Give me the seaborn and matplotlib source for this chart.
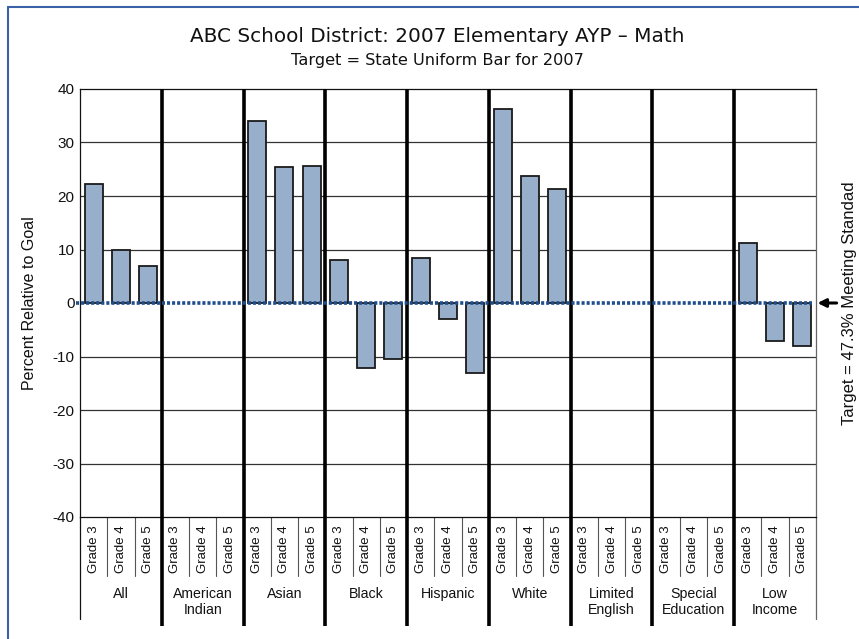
import numpy as np
import pandas as pd
import matplotlib
matplotlib.use("Agg")
import matplotlib.pyplot as plt
import matplotlib.transforms as mtransforms
import seaborn as sns

# ---- data ----
groups = ["All", "American\nIndian", "Asian", "Black", "Hispanic", "White",
          "Limited\nEnglish", "Special\nEducation", "Low\nIncome"]
grades = ["Grade 3", "Grade 4", "Grade 5"]
g3 = [22.3, np.nan, 34.1, 8.1, 8.5, 36.2, np.nan, np.nan, 11.2]
g4 = [9.9, np.nan, 25.5, -12.2, -3.0, 23.8, np.nan, np.nan, -7.1]
g5 = [7.0, np.nan, 25.6, -10.5, -13.1, 21.3, np.nan, np.nan, -8.1]
yticks = [-40, -30, -20, -10, 0, 10, 20, 30, 40]

title = "ABC School District: 2007 Elementary AYP \u2013 Math"
subtitle = "Target = State Uniform Bar for 2007"
ylabel = "Percent Relative to Goal"
target_label = "Target = 47.3% Meeting Standad"

rows = []
for i, grp in enumerate(groups):
    for gr, vals in zip(grades, [g3, g4, g5]):
        rows.append({"slot": f"{i}|{gr}", "group": grp, "grade": gr, "value": vals[i]})
df = pd.DataFrame(rows)
slots = list(df["slot"])

# ---- style ----
sns.set_style("white")
plt.rcParams["font.family"] = ["Liberation Sans", "DejaVu Sans"]
plt.rcParams["text.color"] = "#111111"
plt.rcParams["axes.labelcolor"] = "#111111"
plt.rcParams["xtick.color"] = "#111111"
plt.rcParams["ytick.color"] = "#111111"

bar_color = "#98afcb"
dot_color = "#1f4e8c"
border_color = "#3a62a8"

fig = plt.figure(figsize=(8.59, 6.39), dpi=100)
ax = fig.add_axes([80 / 859, 1 - 517 / 639, 736 / 859, 428 / 639])

sns.barplot(data=df, x="slot", y="value", order=slots, color=bar_color,
            edgecolor="#1a1a1a", linewidth=1.3, width=0.66, errorbar=None,
            saturation=1, ax=ax, zorder=3)

n = len(slots)
ax.set_xlim(-0.5, n - 0.5)
ax.set_ylim(-40, 40)
ax.set_yticks(yticks)
ax.set_yticklabels([str(t) for t in yticks], fontsize=11)
ax.tick_params(axis="y", length=0, pad=4)
ax.set_xticks(range(n))
ax.set_xticklabels(list(df["grade"]), rotation=90, fontsize=9.5, va="top")
ax.tick_params(axis="x", length=0, pad=6)
ax.set_xlabel("")
ax.set_ylabel(ylabel, fontsize=11.5, labelpad=11)

# horizontal gridlines
for t in yticks[1:-1]:
    if t != 0:
        ax.axhline(t, color="#333333", lw=0.9, zorder=1)

for side in ["left", "top", "bottom"]:
    ax.spines[side].set_color("#111111")
    ax.spines[side].set_linewidth(0.9)
ax.spines["right"].set_color("#666666")
ax.spines["right"].set_linewidth(0.9)

trans = ax.get_xaxis_transform()

# spine extensions below plot
ax.plot([-0.5, -0.5], [0, -0.238], transform=trans, color="#111111", lw=0.9, clip_on=False)
ax.plot([n - 0.5, n - 0.5], [0, -0.238], transform=trans, color="#666666", lw=0.9, clip_on=False)

# grade separators and thick group separators
for k in range(1, n):
    x = k - 0.5
    if k % 3 == 0:
        ax.plot([x, x], [1, -0.255], transform=trans, color="black", lw=2.6,
                clip_on=False, zorder=5, solid_capstyle="butt")
    else:
        ax.plot([x, x], [0, -0.138], transform=trans, color="#555555", lw=0.8, clip_on=False)

# group labels
for i, grp in enumerate(groups):
    ax.text(3 * i + 1, -0.163, grp, transform=trans, ha="center", va="top",
            fontsize=10.2, linespacing=1.2)

# zero target line (dotted)
ax.plot([-0.65, n - 0.65], [0, 0], color=dot_color, lw=2.6,
        linestyle=(0, (0.85, 0.55)), clip_on=False, zorder=6)

# arrow and target label on the right
bt = mtransforms.blended_transform_factory(ax.transAxes, ax.transData)
ax.annotate("", xy=(1.002, 0), xycoords=bt, xytext=(1.028, 0), textcoords=bt,
            arrowprops=dict(arrowstyle="-|>", color="black", lw=2.2,
                            mutation_scale=12, shrinkA=0, shrinkB=0))
ax.text(1.046, 0, target_label, transform=bt, rotation=90, ha="center",
        va="center", fontsize=12)

# titles
fig.text(437 / 859, 1 - 37 / 639, title, ha="center", va="center",
         fontsize=14.4, family="DejaVu Sans")
fig.text(437 / 859, 1 - 60 / 639, subtitle, ha="center", va="center",
         fontsize=11.6, family="DejaVu Sans")

# partial frame (left and top)
fig.add_artist(plt.Line2D([7.5 / 859, 7.5 / 859], [0, 1 - 7 / 639],
                          transform=fig.transFigure, color=border_color, lw=1.5))
fig.add_artist(plt.Line2D([7.5 / 859, 1], [1 - 7 / 639, 1 - 7 / 639],
                          transform=fig.transFigure, color=border_color, lw=1.5))

fig.savefig("out.png", dpi=100)
